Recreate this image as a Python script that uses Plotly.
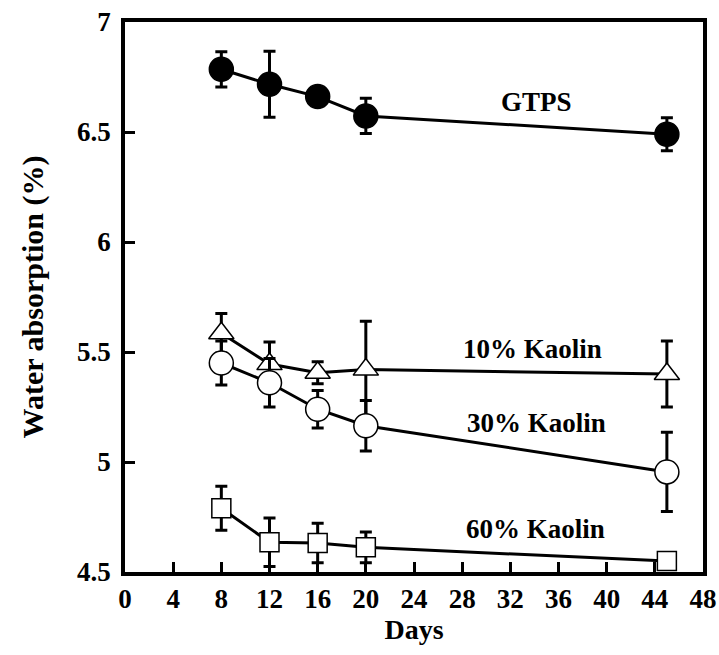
import plotly.graph_objects as go

days = [8, 12, 16, 20, 45]
gtps = [6.785, 6.717, 6.661, 6.573, 6.49]
gtps_err = [0.08, 0.15, 0.02, 0.08, 0.075]
k10 = [5.585, 5.445, 5.406, 5.42, 5.40]
k10_err = [0.09, 0.10, 0.05, 0.22, 0.15]
k30 = [5.45, 5.36, 5.24, 5.165, 4.955]
k30_err = [0.10, 0.11, 0.085, 0.115, 0.18]
k60 = [4.79, 4.635, 4.632, 4.612, 4.55]
k60_err = [0.10, 0.11, 0.09, 0.07, 0.03]

labels = ["GTPS", "10% Kaolin", "30% Kaolin", "60% Kaolin"]
label_x = [34.2, 33.8, 34.2, 34.1]
label_y = [6.635, 5.512, 5.179, 4.694]

x_ticks = list(range(0, 49, 4))
y_ticks = [4.5, 5, 5.5, 6, 6.5, 7]
y_tick_text = ["4.5", "5", "5.5", "6", "6.5", "7"]

FONT = "Liberation Serif"

fig = go.Figure()

series = [
    (gtps, gtps_err, "circle", 24, "black"),
    (k10, k10_err, "triangle-up", 22, "white"),
    (k30, k30_err, "circle", 24, "white"),
    (k60, k60_err, "square", 19, "white"),
]
for vals, err, sym, size, fill in series:
    fig.add_trace(go.Scatter(
        x=days, y=vals, mode="lines+markers",
        line=dict(color="black", width=3),
        marker=dict(symbol=sym, size=size, color=fill,
                    line=dict(color="black", width=1.5)),
        error_y=dict(type="data", array=err, visible=True,
                     color="black", thickness=3, width=6),
        cliponaxis=False, showlegend=False,
    ))

for t, x, y in zip(labels, label_x, label_y):
    fig.add_annotation(x=x, y=y, text=t, showarrow=False,
                       font=dict(family=FONT, size=27, color="black", weight="bold"))

fig.update_layout(
    width=719, height=655,
    margin=dict(l=125, r=16, t=22, b=83, autoexpand=False),
    plot_bgcolor="white", paper_bgcolor="white",
    font=dict(family=FONT, color="black"),
)
fig.update_xaxes(
    range=[0, 48], tickvals=x_ticks, ticks="inside", ticklen=10, tickwidth=3,
    tickcolor="black", showline=True, linecolor="black", linewidth=3.5,
    mirror=True, showgrid=False, zeroline=False,
    tickfont=dict(family=FONT, size=27, color="black", weight="bold"),
    title=dict(text="Days", font=dict(family=FONT, size=28, color="black", weight="bold"),
               standoff=6),
)
fig.update_yaxes(
    range=[4.5, 7], tickvals=y_ticks, ticktext=y_tick_text, ticks="inside",
    ticklen=10, tickwidth=3, tickcolor="black", showline=True,
    linecolor="black", linewidth=3.5, mirror=True, showgrid=False, zeroline=False,
    ticklabelstandoff=5,
    tickfont=dict(family=FONT, size=27, color="black", weight="bold"),
    title=dict(text="Water absorption (%)",
               font=dict(family=FONT, size=30, color="black", weight="bold"),
               standoff=26),
)

fig.write_html("out.html")
